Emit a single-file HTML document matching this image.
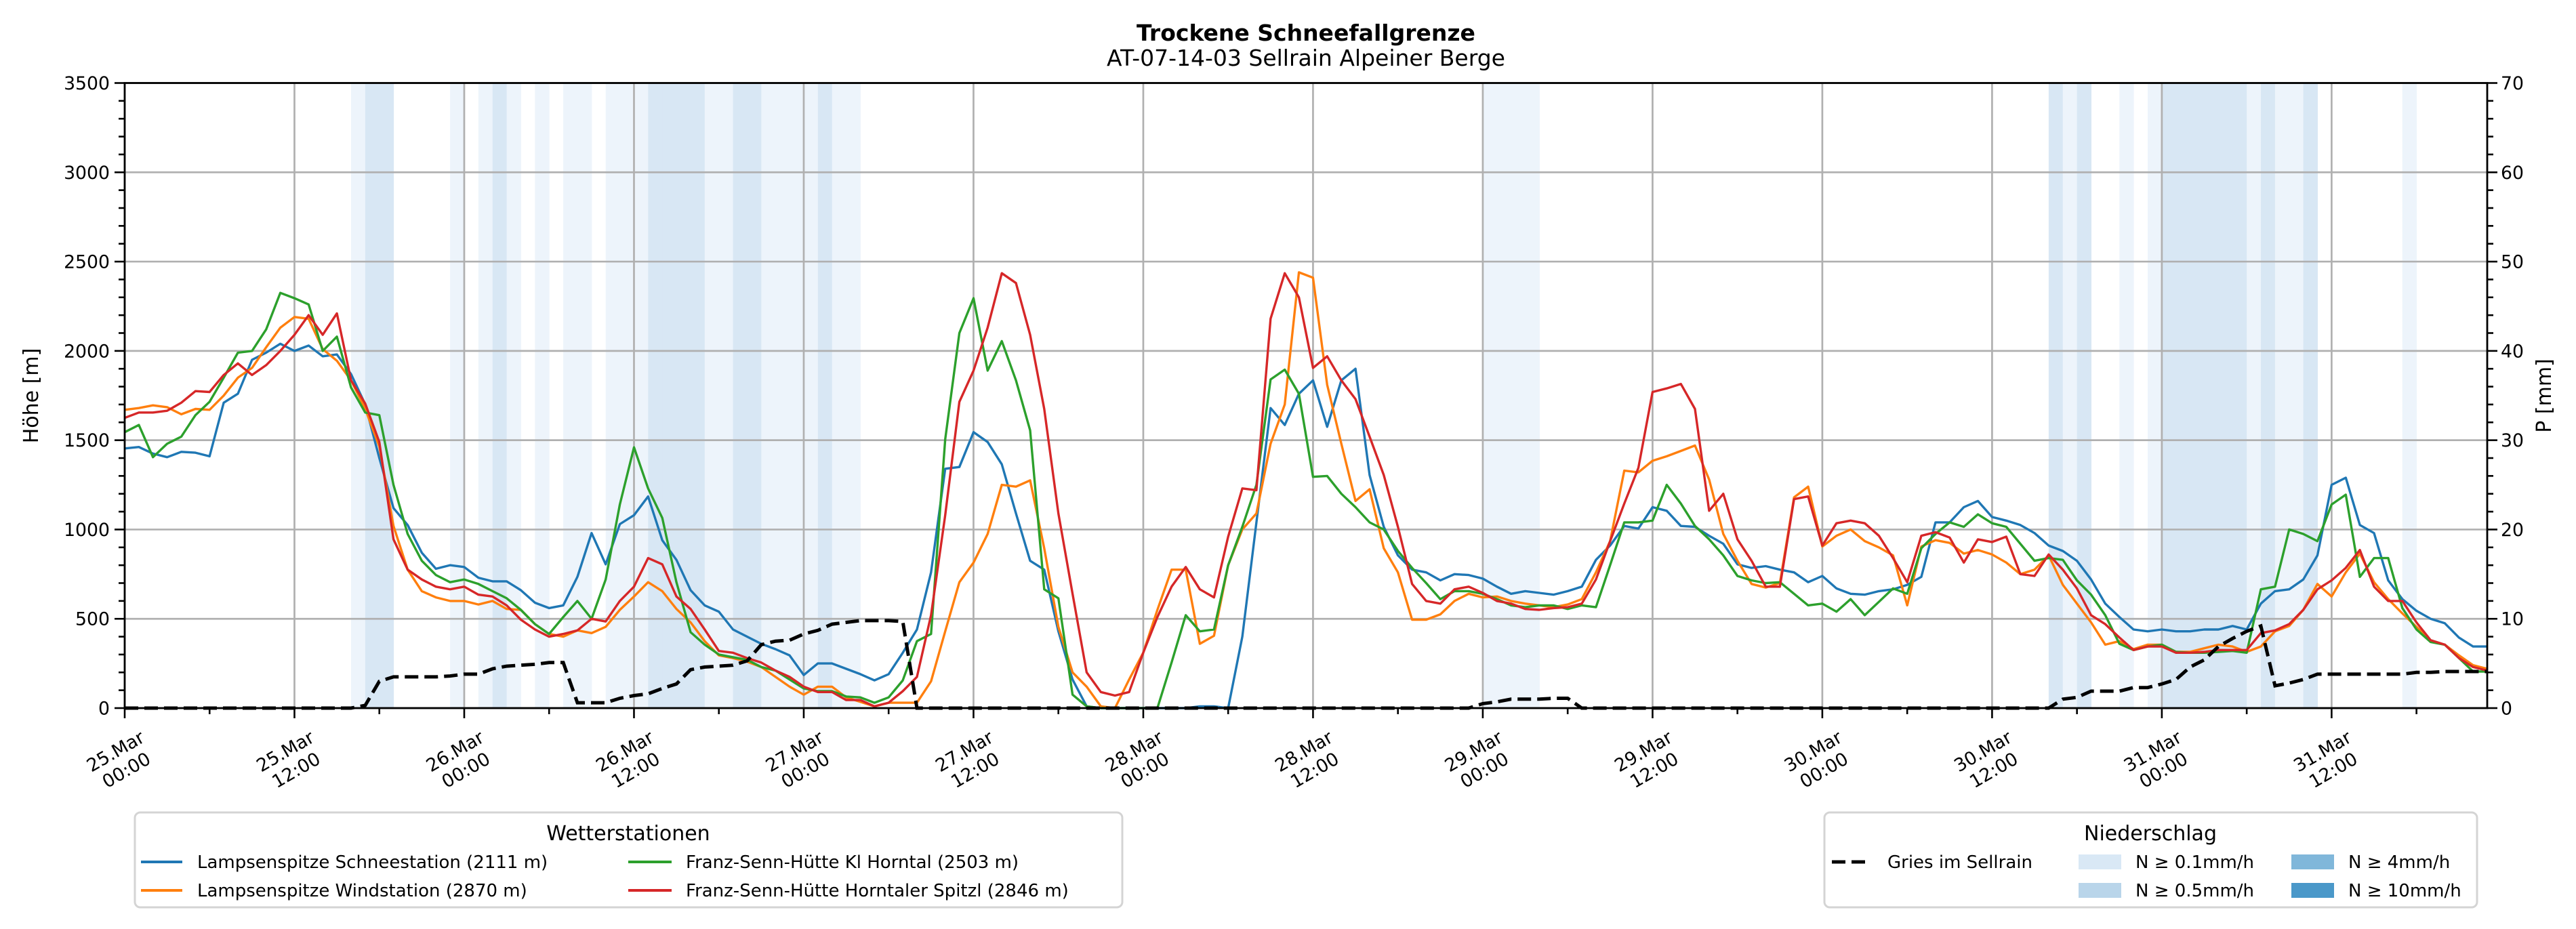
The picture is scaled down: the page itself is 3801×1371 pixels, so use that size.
<!DOCTYPE html>
<html><head><meta charset="utf-8">
<style>
html,body{margin:0;padding:0;background:#fff;}
svg{display:block;font-family:"DejaVu Sans","Liberation Sans",sans-serif;}
</style></head>
<body>
<svg id="chart" xmlns="http://www.w3.org/2000/svg" width="3801" height="1371" viewBox="0 0 3801 1371">
  <rect x="0" y="0" width="3801" height="1371" fill="#ffffff"/>
  <text x="1927" y="60" text-anchor="middle" font-size="33" font-weight="bold">Trockene Schneefallgrenze</text>
  <text x="1927" y="97" text-anchor="middle" font-size="33">AT-07-14-03 Sellrain Alpeiner Berge</text>
  <g id="bands"></g>
  <g id="grid"></g>
  <g id="series"></g>
  <g id="axes"></g>
  <text transform="translate(56,584) rotate(-90)" text-anchor="middle" font-size="30">Höhe [m]</text>
  <text transform="translate(3764,584) rotate(-90)" text-anchor="middle" font-size="30">P [mm]</text>

  <g>
    <rect x="199" y="1199" width="1457" height="140" rx="8" fill="#fff" stroke="#d4d4d4" stroke-width="3"/>
    <text x="927" y="1240" text-anchor="middle" font-size="30">Wetterstationen</text>
    <g><line x1="208" y1="1272" x2="269" y2="1272" stroke="#1f77b4" stroke-width="4"/><text x="291" y="1281" font-size="26">Lampsenspitze Schneestation (2111 m)</text></g>
    <g><line x1="208" y1="1314" x2="269" y2="1314" stroke="#ff7f0e" stroke-width="4"/><text x="291" y="1323" font-size="26">Lampsenspitze Windstation (2870 m)</text></g>
    <g><line x1="927" y1="1272" x2="991" y2="1272" stroke="#2ca02c" stroke-width="4"/><text x="1012" y="1281" font-size="26">Franz-Senn-Hütte Kl Horntal (2503 m)</text></g>
    <g><line x1="927" y1="1314" x2="991" y2="1314" stroke="#d62728" stroke-width="4"/><text x="1012" y="1323" font-size="26">Franz-Senn-Hütte Horntaler Spitzl (2846 m)</text></g>
  </g>

  <g>
    <rect x="2692" y="1199" width="963" height="140" rx="8" fill="#fff" stroke="#d4d4d4" stroke-width="3"/>
    <text x="3173" y="1240" text-anchor="middle" font-size="30">Niederschlag</text>
    <g><line x1="2703" y1="1272" x2="2761" y2="1272" stroke="#000" stroke-width="5" stroke-dasharray="20,9"/><text x="2785" y="1281" font-size="26">Gries im Sellrain</text></g>
    <g><rect x="3067" y="1261" width="63" height="22" fill="#d9e8f5"/><text x="3151" y="1281" font-size="26">N ≥ 0.1mm/h</text></g>
    <g><rect x="3067" y="1303" width="63" height="22" fill="#b9d5ea"/><text x="3151" y="1323" font-size="26">N ≥ 0.5mm/h</text></g>
    <g><rect x="3381" y="1261" width="63" height="22" fill="#80b7da"/><text x="3465" y="1281" font-size="26">N ≥ 4mm/h</text></g>
    <g><rect x="3381" y="1303" width="63" height="22" fill="#4a98c9"/><text x="3465" y="1323" font-size="26">N ≥ 10mm/h</text></g>
  </g>
</svg>
<script>
// ---- data (hourly, h=0 is 25.Mar 00:00) ----
const xTickLabels = ["25.Mar|00:00","25.Mar|12:00","26.Mar|00:00","26.Mar|12:00","27.Mar|00:00","27.Mar|12:00","28.Mar|00:00","28.Mar|12:00","29.Mar|00:00","29.Mar|12:00","30.Mar|00:00","30.Mar|12:00","31.Mar|00:00","31.Mar|12:00"];
const yTicksLeft = [0,500,1000,1500,2000,2500,3000,3500];
const yTicksRight = [0,10,20,30,40,50,60,70];
const blueSeries = [1454,1462,1425,1405,1435,1430,1410,1710,1760,1950,1990,2040,2000,2030,1970,1980,1870,1700,1400,1120,1025,870,780,800,790,730,710,710,660,590,560,575,735,980,805,1030,1080,1185,940,830,660,575,540,440,400,360,330,295,185,250,250,220,190,155,190,310,440,760,1340,1350,1545,1490,1365,1090,825,775,430,160,10,0,0,0,0,0,0,0,10,10,0,400,1040,1680,1585,1760,1835,1575,1835,1900,1305,1015,855,775,760,715,750,745,725,680,640,655,645,635,655,680,830,910,1020,1005,1125,1105,1020,1015,965,920,805,785,795,775,760,705,740,670,640,635,655,665,690,735,1040,1040,1125,1160,1070,1050,1025,980,910,880,825,720,585,510,440,430,440,430,430,440,440,460,440,585,655,665,720,855,1250,1290,1025,980,715,610,545,500,475,395,345,345];
const orangeSeries = [1670,1680,1695,1685,1645,1675,1670,1750,1850,1905,2020,2130,2190,2180,2010,1945,1835,1675,1465,1020,775,655,620,600,600,580,600,555,550,470,415,400,435,420,455,550,625,705,655,555,480,375,295,280,260,230,175,120,75,120,120,60,35,10,30,30,30,150,430,705,815,975,1250,1240,1275,895,455,200,120,10,0,160,310,550,775,775,360,405,800,1000,1090,1480,1700,2440,2410,1810,1480,1160,1225,895,760,495,495,525,600,640,620,625,600,585,575,565,580,610,760,935,1330,1320,1385,1410,1440,1470,1280,975,825,695,675,700,1180,1240,905,965,1000,935,900,855,575,905,940,925,865,885,860,815,750,775,855,690,585,480,355,375,330,355,355,315,315,335,355,345,315,345,430,460,550,695,625,760,865,705,610,530,455,375,355,295,240,220];
const greenSeries = [1545,1585,1405,1480,1520,1640,1715,1850,1990,2000,2120,2325,2295,2260,2000,2080,1795,1655,1640,1250,975,825,745,705,720,695,655,615,550,470,415,510,600,500,720,1140,1460,1230,1065,705,425,355,300,285,270,230,210,160,110,95,95,65,60,30,60,155,375,415,1505,2100,2295,1890,2055,1835,1555,665,615,75,10,0,0,0,0,0,255,520,430,440,800,1015,1250,1840,1895,1760,1295,1300,1200,1125,1040,1000,880,785,700,610,655,655,640,610,575,565,575,575,555,575,565,800,1040,1040,1050,1250,1145,1020,945,855,740,715,700,705,640,575,585,540,610,520,595,670,640,895,975,1040,1015,1085,1035,1015,920,825,840,830,715,635,520,360,325,345,355,315,310,310,315,320,310,665,680,1000,975,935,1140,1195,735,840,840,560,440,370,355,280,205,205];
const redSeries = [1625,1655,1655,1665,1710,1775,1770,1865,1930,1865,1920,2000,2090,2200,2090,2210,1835,1705,1490,945,775,720,680,665,680,635,625,575,495,440,400,415,435,500,485,600,680,840,805,625,555,440,320,310,280,255,210,175,120,90,90,45,45,10,30,95,175,520,1080,1715,1890,2130,2435,2380,2090,1675,1090,640,200,90,70,90,310,510,680,790,665,620,960,1230,1220,2180,2435,2300,1905,1970,1835,1730,1520,1305,1015,695,600,585,665,680,645,600,585,555,550,560,565,585,720,935,1145,1345,1770,1790,1815,1675,1105,1200,945,825,680,680,1170,1185,910,1035,1050,1035,965,840,705,965,985,955,815,945,930,960,750,740,860,775,670,520,470,395,325,345,345,310,310,315,325,325,325,420,435,470,550,665,715,785,885,680,600,600,480,380,355,280,230,210];
const griesSeries = [0,0,0,0,0,0,0,0,0,0,0,0,0,0,0,0,0,0.3,3.0,3.5,3.5,3.5,3.5,3.6,3.8,3.8,4.4,4.7,4.8,4.9,5.1,5.1,0.6,0.6,0.6,1.1,1.4,1.6,2.2,2.7,4.3,4.6,4.7,4.8,5.3,7.1,7.5,7.6,8.3,8.7,9.4,9.6,9.8,9.8,9.8,9.7,0,0,0,0,0,0,0,0,0,0,0,0,0,0,0,0,0,0,0,0,0,0,0,0,0,0,0,0,0,0,0,0,0,0,0,0,0,0,0,0,0.5,0.7,1.0,1.0,1.0,1.1,1.1,0,0,0,0,0,0,0,0,0,0,0,0,0,0,0,0,0,0,0,0,0,0,0,0,0,0,0,0,0,0,0,0,0,0,1.0,1.2,1.9,1.9,1.9,2.3,2.3,2.7,3.2,4.6,5.4,6.9,7.8,8.6,9.2,2.5,2.8,3.2,3.8,3.8,3.8,3.8,3.8,3.8,3.8,4.0,4.0,4.1,4.1,4.1,4.1];
const precipHours = [16,17,18,23,25,26,27,29,31,32,34,35,36,37,38,39,40,41,42,43,44,45,46,47,48,49,50,51,96,97,98,99,136,137,138,141,143,144,145,146,147,148,149,150,151,152,153,154,161];
const precipLevels = [1,2,2,1,1,2,1,1,1,1,1,1,1,2,2,2,2,1,1,2,2,1,1,1,1,2,1,1,1,1,1,1,2,1,2,1,1,2,2,2,2,2,2,1,2,1,1,2,1];

// ---- axes ----
const L=184, R=3670, T=122.5, B=1045, HMAX=167;
const xS = h => L + h*(R-L)/HMAX;
const yS = v => B - v*(B-T)/3500;
const yP = mm => B - mm*(B-T)/70;
const NS='http://www.w3.org/2000/svg';
function mk(tag, parent, attrs){const e=document.createElementNS(NS,tag);for(const k in attrs)e.setAttribute(k,attrs[k]);parent.appendChild(e);return e;}

const bands=document.getElementById('bands');
const bandColors=['none','#edf4fb','#d8e7f4','#80b7da','#4a98c9'];
precipHours.forEach((h,i)=>{
  const r=mk('rect',bands,{x:xS(h),y:T,width:xS(h+1)-xS(h)+0.5,height:B-T,fill:bandColors[precipLevels[i]]});
  
  
});

const grid=document.getElementById('grid');
xTickLabels.forEach((lab,i)=>{
  const l=mk('line',grid,{x1:xS(i*12),x2:xS(i*12),y1:T,y2:B,stroke:'#b0b0b0','stroke-width':2.7});
  
  
});
yTicksLeft.forEach(v=>{
  const l=mk('line',grid,{x1:L,x2:R,y1:yS(v),y2:yS(v),stroke:'#b0b0b0','stroke-width':2.7});
  
  
});

const series=document.getElementById('series');
function drawLine(vals, color, name){
  const pts=vals.map((v,h)=>xS(h).toFixed(1)+','+yS(v).toFixed(1)).join(' ');
  const p=mk('polyline',series,{points:pts,fill:'none',stroke:color,'stroke-width':3.4,'stroke-linejoin':'round'});
  
  
}
drawLine(blueSeries,'#1f77b4','line-lampsenspitze-schnee');
drawLine(orangeSeries,'#ff7f0e','line-lampsenspitze-wind');
drawLine(greenSeries,'#2ca02c','line-franz-senn-kl-horntal');
drawLine(redSeries,'#d62728','line-franz-senn-horntaler-spitzl');
const gp=griesSeries.map((v,h)=>xS(h).toFixed(1)+','+yP(v).toFixed(1)).join(' ');
const gl=mk('polyline',series,{points:gp,fill:'none',stroke:'#000','stroke-width':5,'stroke-dasharray':'20,9'});



const axes=document.getElementById('axes');
const frame=mk('rect',axes,{x:L,y:T,width:R-L,height:B-T,fill:'none',stroke:'#000','stroke-width':2.8});


for(let v=0; v<=3500; v+=100){
  const major=v%500===0, len=major?15:9;
  const t1=mk('line',axes,{x1:L-len,x2:L,y1:yS(v),y2:yS(v),stroke:'#000','stroke-width':2.6});
  
  
  const t2=mk('line',axes,{x1:R,x2:R+len,y1:yS(v),y2:yS(v),stroke:'#000','stroke-width':2.6});
  
  
}
yTicksLeft.forEach(v=>{
  const t=mk('text',axes,{x:L-22,y:yS(v)+9.5,'text-anchor':'end','font-size':26.7});
  t.textContent=v;
  
  
});
yTicksRight.forEach(v=>{
  const t=mk('text',axes,{x:R+20,y:yP(v)+9.5,'text-anchor':'start','font-size':26.7});
  t.textContent=v;
  
  
});
for(let h=0; h<=HMAX; h+=6){
  const major=h%12===0, len=major?15:9;
  const t=mk('line',axes,{x1:xS(h),x2:xS(h),y1:B,y2:B+len,stroke:'#000','stroke-width':2.6});
  
  
}
xTickLabels.forEach((lab,i)=>{
  const parts=lab.split('|');
  const g=mk('g',axes,{transform:'translate('+(xS(i*12)-6)+',1122) rotate(-30)'});
  
  
  const t=mk('text',g,{'text-anchor':'middle','font-size':26.7});
  const a=mk('tspan',t,{x:0,y:-6}); a.textContent=parts[0];
  const b=mk('tspan',t,{x:0,y:26}); b.textContent=parts[1];
});
</script>
</body></html>
